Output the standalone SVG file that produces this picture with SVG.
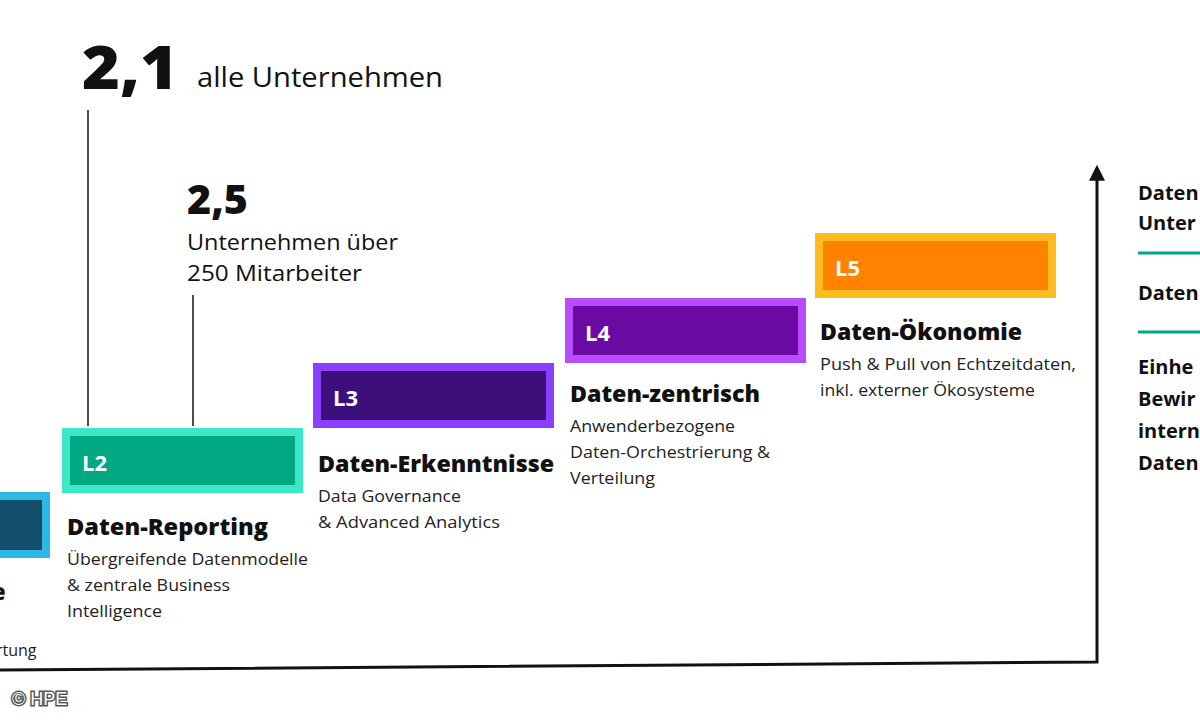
<svg xmlns="http://www.w3.org/2000/svg" width="1200" height="720" viewBox="0 0 1200 720">
<style>
.t{font-family:"Open Sans","Liberation Sans",sans-serif;fill:#111}
.h{font-family:"Open Sans","Liberation Sans",sans-serif;font-weight:800;font-size:22px;fill:#111}
.d{font-family:"Open Sans","Liberation Sans",sans-serif;font-size:16px;fill:#222}
.lv{font-family:"Open Sans","Liberation Sans",sans-serif;font-weight:700;font-size:22px;fill:#fff}
.r{font-family:"Open Sans","Liberation Sans",sans-serif;font-weight:700;font-size:20px;fill:#111}
</style>
<defs><marker id="ar" viewBox="0 0 10 10" refX="8" refY="5" markerWidth="16" markerHeight="16" markerUnits="userSpaceOnUse" orient="auto"><path d="M0,0 L10,5 L0,10 Z" fill="#111"/></marker></defs>
<rect width="1200" height="720" fill="#fff"/>
<g id="connectors" stroke="#111" fill="none">
<path d="M0,670 L1097,662 L1097,168" stroke-width="3" marker-end="url(#ar)"/>
<line x1="88" y1="110" x2="88" y2="426" stroke-width="1.5"/>
<line x1="193" y1="295" x2="193" y2="426" stroke-width="1.5"/>
<line x1="1138" y1="253" x2="1200" y2="253" stroke="#00a982" stroke-width="3"/>
<line x1="1138" y1="332" x2="1200" y2="332" stroke="#00a982" stroke-width="3"/>
</g>
<g id="stats">
<text x="82" y="89" class="t" font-size="60" font-weight="800" textLength="96" lengthAdjust="spacingAndGlyphs">2,1</text>
<text x="197" y="87" class="t" font-size="27" textLength="246" lengthAdjust="spacingAndGlyphs">alle Unternehmen</text>
<text x="187" y="214" class="t" font-size="40" font-weight="800" textLength="61" lengthAdjust="spacingAndGlyphs">2,5</text>
<text x="187" y="250" class="t" font-size="22" textLength="211" lengthAdjust="spacingAndGlyphs">Unternehmen über</text>
<text x="187" y="281" class="t" font-size="22" textLength="175" lengthAdjust="spacingAndGlyphs">250 Mitarbeiter</text>
</g>
<g id="L1">
<rect x="-20" y="496" width="66" height="58" fill="#134f6b" stroke="#2eb8e6" stroke-width="8"/>
<text x="-8" y="600" class="h">e</text>
<text x="-4" y="656" class="d">rtung</text>
</g>
<g id="L2">
<rect x="66" y="432" width="233" height="57" fill="#00a982" stroke="#3de8c8" stroke-width="8"/>
<text x="82" y="471" class="lv">L2</text>
<text x="67" y="535" class="h" textLength="201" lengthAdjust="spacingAndGlyphs">Daten-Reporting</text>
<text x="67" y="565" class="d" textLength="241" lengthAdjust="spacingAndGlyphs">Übergreifende Datenmodelle</text>
<text x="67" y="591" class="d" textLength="163" lengthAdjust="spacingAndGlyphs">&amp; zentrale Business</text>
<text x="67" y="617" class="d" textLength="95" lengthAdjust="spacingAndGlyphs">Intelligence</text>
</g>
<g id="L3">
<rect x="317" y="367" width="233" height="57" fill="#3d0f7a" stroke="#8a3ffc" stroke-width="8"/>
<text x="333" y="406" class="lv">L3</text>
<text x="318" y="472" class="h" textLength="236" lengthAdjust="spacingAndGlyphs">Daten-Erkenntnisse</text>
<text x="318" y="502" class="d" textLength="143" lengthAdjust="spacingAndGlyphs">Data Governance</text>
<text x="318" y="528" class="d" textLength="182" lengthAdjust="spacingAndGlyphs">&amp; Advanced Analytics</text>
</g>
<g id="L4">
<rect x="569" y="302" width="233" height="57" fill="#6b0aa3" stroke="#b84dff" stroke-width="8"/>
<text x="585" y="341" class="lv">L4</text>
<text x="570" y="402" class="h" textLength="190" lengthAdjust="spacingAndGlyphs">Daten-zentrisch</text>
<text x="570" y="432" class="d" textLength="165" lengthAdjust="spacingAndGlyphs">Anwenderbezogene</text>
<text x="570" y="458" class="d" textLength="200" lengthAdjust="spacingAndGlyphs">Daten-Orchestrierung &amp;</text>
<text x="570" y="484" class="d" textLength="85" lengthAdjust="spacingAndGlyphs">Verteilung</text>
</g>
<g id="L5">
<rect x="819" y="237" width="233" height="57" fill="#ff8300" stroke="#ffbc1f" stroke-width="8"/>
<text x="835" y="276" class="lv">L5</text>
<text x="820" y="340" class="h" textLength="202" lengthAdjust="spacingAndGlyphs">Daten-Ökonomie</text>
<text x="820" y="370" class="d" textLength="256" lengthAdjust="spacingAndGlyphs">Push &amp; Pull von Echtzeitdaten,</text>
<text x="820" y="396" class="d" textLength="215" lengthAdjust="spacingAndGlyphs">inkl. externer Ökosysteme</text>
</g>
<g id="right">
<text x="1138" y="200" class="r">Daten</text>
<text x="1138" y="230" class="r">Unter</text>
<text x="1138" y="300" class="r">Daten</text>
<text x="1138" y="374" class="r">Einhe</text>
<text x="1138" y="406" class="r">Bewir</text>
<text x="1138" y="438" class="r">intern</text>
<text x="1138" y="470" class="r">Daten</text>
</g>
<text x="12" y="705" font-family="Liberation Sans,sans-serif" font-size="18" fill="#fff" stroke="#555" stroke-width="3" paint-order="stroke">© HPE</text>
</svg>
